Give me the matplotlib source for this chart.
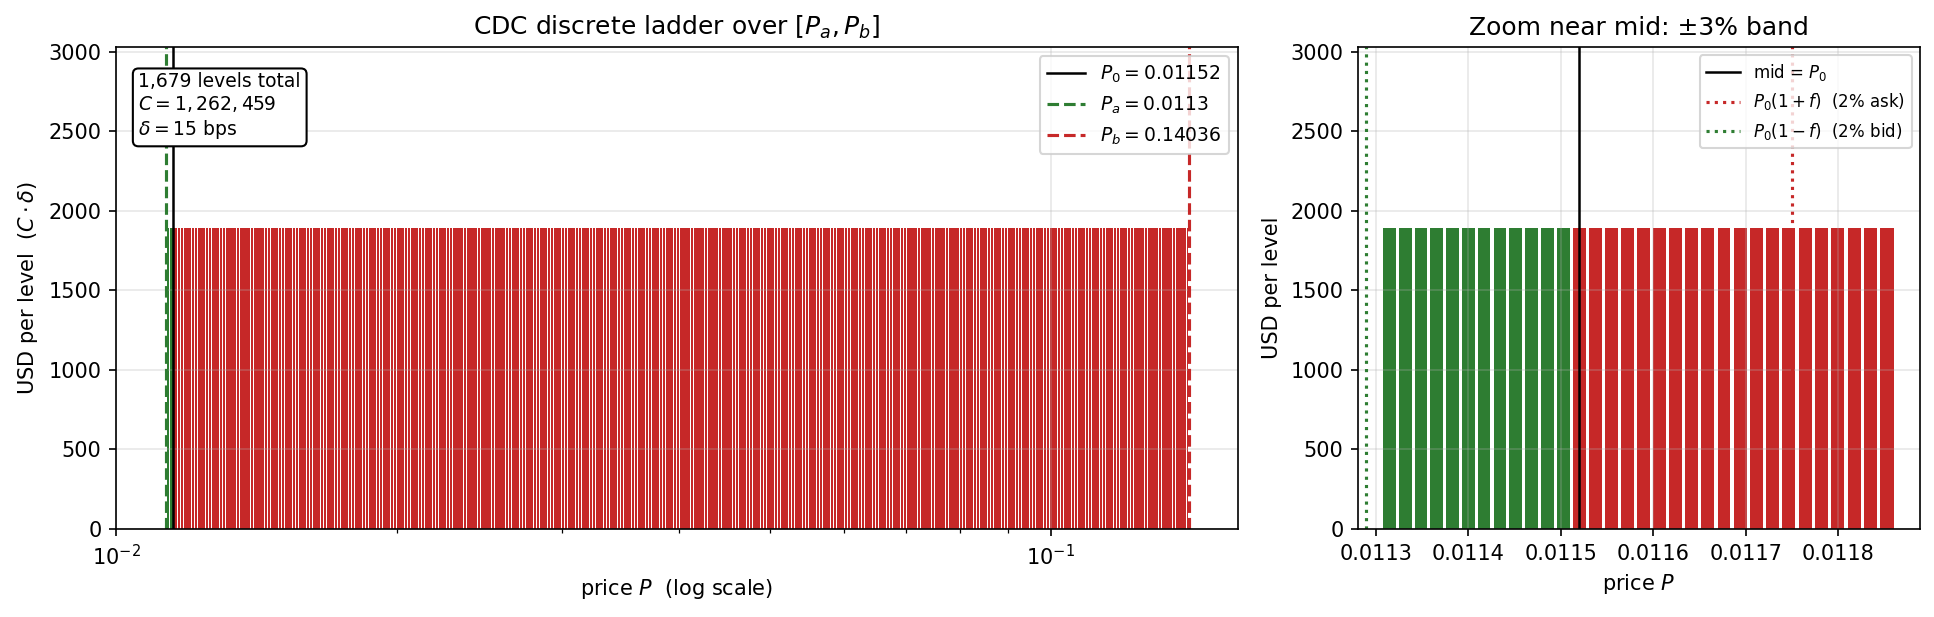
import numpy as np
import matplotlib
matplotlib.use('Agg')
import matplotlib.pyplot as plt
from matplotlib.ticker import MultipleLocator, FormatStrFormatter

# Ladder parameters
P0 = 0.01152
Pa = 0.0113
Pb = 0.14036
C = 1262459
delta = 0.0015          # 15 bps
n_bid = 12              # levels below mid
n_ask = 1667            # levels at/above mid (1,679 total)
band = 0.03             # zoom band around mid
f = 0.02                # 2% ask/bid markers

green = '#2e7d32'
red = '#c62828'

# Discrete ladder: P0 * (1+delta)^k
k = np.arange(-n_bid, n_ask)
prices = P0 * (1 + delta) ** k
usd = np.full(prices.shape, C * delta)
colors = np.where(prices < P0 * (1 - 1e-9), green, red)
widths = 0.8 * prices * delta

fig = plt.figure(figsize=(1934 / 150, 617 / 150), dpi=150)
ax1 = fig.add_axes([0.0600, 0.1426, 0.5801, 0.7812])
ax2 = fig.add_axes([0.7022, 0.1426, 0.2906, 0.7812])

# Left: full ladder on log scale
ax1.bar(prices, usd, width=widths, color=colors, align='center')
ax1.axvline(P0, color='black', lw=1.2, label=f'$P_0 = {P0}$')
ax1.axvline(Pa, color=green, ls='--', lw=1.5, label=f'$P_a = {Pa}$')
ax1.axvline(Pb, color=red, ls='--', lw=1.5, label=f'$P_b = {Pb}$')
ax1.set_xscale('log')
ax1.set_xlim(0.01, 0.1585)
ax1.set_ylim(0, 1.6 * C * delta)
ax1.yaxis.set_major_locator(MultipleLocator(500))
ax1.set_title('CDC discrete ladder over $[P_a, P_b]$')
ax1.set_xlabel('price $P$  (log scale)')
ax1.set_ylabel(r'USD per level  $(C\cdot\delta)$')
ax1.grid(True, alpha=0.3)
ax1.legend(loc='upper right', fontsize=9)
ax1.text(0.02, 0.948, f'{len(prices):,} levels total\n$C = {C:,}$\n$\\delta = {delta * 1e4:.0f}$ bps',
         transform=ax1.transAxes, va='top', ha='left', fontsize=9,
         bbox=dict(boxstyle='round', fc='white', ec='black'))

# Right: zoom near mid
m = (prices >= P0 * (1 - band)) & (prices <= P0 * (1 + band))
ax2.bar(prices[m], usd[m], width=widths[m], color=colors[m], align='center')
ax2.axvline(P0, color='black', lw=1.2, label='mid = $P_0$')
ax2.axvline(P0 * (1 + f), color=red, ls=':', lw=1.5, label='$P_0(1+f)$  (2% ask)')
ax2.axvline(P0 * (1 - f), color=green, ls=':', lw=1.5, label='$P_0(1-f)$  (2% bid)')
ax2.set_xlim(0.0112805, 0.0118886)
ax2.set_ylim(0, 1.6 * C * delta)
ax2.xaxis.set_major_locator(MultipleLocator(0.0001))
ax2.xaxis.set_major_formatter(FormatStrFormatter('%.4f'))
ax2.yaxis.set_major_locator(MultipleLocator(500))
ax2.set_title('Zoom near mid: ±3% band')
ax2.set_xlabel('price $P$')
ax2.set_ylabel('USD per level')
ax2.grid(True, alpha=0.3)
ax2.legend(loc='upper right', fontsize=8)

fig.savefig('out.png', dpi=150)
